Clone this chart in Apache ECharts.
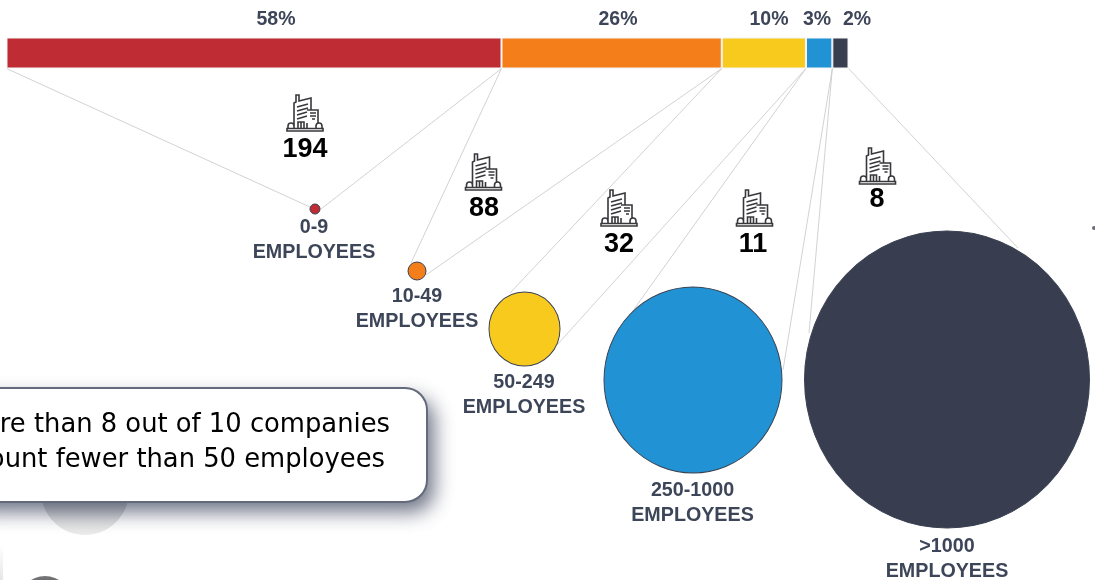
<!DOCTYPE html>
<html><head><meta charset="utf-8">
<style>html,body{margin:0;padding:0;background:#fff}#c{width:1095px;height:580px}</style>
<script src="https://cdn.jsdelivr.net/npm/echarts@6/dist/echarts.min.js"></script>
</head><body><div id="c"></div>
<script>
// Data
const categories = ['0-9', '10-49', '50-249', '250-1000', '>1000'];
const barShares = [58.2, 25.9, 9.9, 3.1, 1.9];
const shareLabels = ['58%', '26%', '10%', '3%', '2%'];
const companies = [194, 88, 32, 11, 8];
const unitLabel = 'EMPLOYEES';
const calloutLines = ['More than 8 out of 10 companies', 'count fewer than 50 employees'];

// Layout (pixels)
const barLeft = 6.5, barWidth = 842, barTop = 37.5, barHeight = 31;
const colors = ['#bf2c34', '#f47f1a', '#f9ca1e', '#2193d5', '#383e4f'];
const ink = '#3d4558';
const bubbleCentres = [[315, 209], [417, 271], [524.5, 329], [693, 380], [947, 379.5]];
const bubbleSizes = [[10, 10], [18, 18], [71, 74], [178, 186], [285, 297]];
const labelCentres = [[314, 240], [417, 309.5], [524, 395], [692.5, 503.5], [947, 559.5]];
const shareLabelX = [276, 618, 769, 817, 857];
const shareLabelY = 20;
const iconCentres = [[305, 113], [483.5, 172], [619, 208], [754.5, 208], [877.5, 166]];
const countCentres = [[305, 150], [484, 209], [619, 245], [753, 245], [877, 200]];
// connector ends: [bar-edge index, end x, end y]
const connectors = [
  [0, 310, 207], [1, 321, 209],
  [1, 411, 263], [2, 426, 275],
  [2, 510, 293], [3, 557, 345],
  [3, 632, 312], [4, 783, 370],
  [4, 809, 333], [5, 1018, 248]
];
const total = barShares.reduce((a, b) => a + b, 0);
const edgeX = [barLeft];
barShares.forEach((v, i) => edgeX.push(edgeX[i] + v / total * barWidth));

const buildingIcon = 'path://M0 36H36V33.5H0Z' +
  'M7 33V8L9 7V0H12V6L24 3V15' +
  'M10 12L21 9M10 16L21 13M10 20L20 17M10 24L20 21' +
  'M20 15H31V28M23 18H29M23 21H29M25 24H28M20 28V33' +
  'M11 33V27H17V33M14 27V33' +
  'M1 33V31Q1 28 4 28Q7 28 7 31V33M29 33V31Q29 28 32 28Q35 28 35 31V33';

const series = [];
barShares.forEach((v, i) => series.push({
  type: 'bar', stack: 's', xAxisIndex: 0, yAxisIndex: 0, barWidth: '100%', silent: true,
  data: [v], itemStyle: { color: colors[i], borderColor: '#f4f4f6', borderWidth: 1 }
}));
connectors.forEach(c => series.push({
  type: 'line', xAxisIndex: 1, yAxisIndex: 1, silent: true, symbol: 'none', z: 1,
  data: [[edgeX[c[0]], barTop + barHeight], [c[1], c[2]]],
  lineStyle: { color: '#c6c7cb', width: 0.8 }
}));
series.push({
  type: 'scatter', xAxisIndex: 1, yAxisIndex: 1, silent: true, z: 4,
  data: categories.map((c, i) => ({
    value: bubbleCentres[i], symbolSize: bubbleSizes[i],
    itemStyle: { color: colors[i], opacity: 1, borderColor: '#3a4152', borderWidth: 1 }
  }))
});
series.push({
  type: 'scatter', xAxisIndex: 1, yAxisIndex: 1, silent: true, z: 5,
  symbol: buildingIcon, symbolSize: 36,
  itemStyle: { color: '#fff', opacity: 1, borderColor: '#38383c', borderWidth: 1.6 },
  data: iconCentres
});
const textSeries = (points, texts, font) => ({
  type: 'scatter', xAxisIndex: 1, yAxisIndex: 1, silent: true, z: 6, symbolSize: 0,
  itemStyle: { opacity: 1 },
  data: points.map((p, i) => ({ value: p, name: String(texts[i]) })),
  label: Object.assign({ show: true, position: 'inside', formatter: p => p.name, fontFamily: '"Liberation Sans"', fontWeight: 'bold' }, font)
});
series.push(textSeries(shareLabelX.map(x => [x, shareLabelY]), shareLabels, { fontSize: 19.5, color: ink }));
series.push(textSeries(countCentres, companies, { fontSize: 27, color: '#000' }));
series.push(textSeries(labelCentres, categories.map(c => c + '\n' + unitLabel), { fontSize: 19.7, color: ink, lineHeight: 25 }));

const chart = echarts.init(document.getElementById('c'), null, { renderer: 'canvas' });
chart.setOption({
  animation: false,
  backgroundColor: '#fff',
  grid: [
    { left: barLeft, top: barTop, width: barWidth, height: barHeight },
    { left: 0, top: 0, width: 1095, height: 580 }
  ],
  xAxis: [
    { type: 'value', gridIndex: 0, min: 0, max: total, show: false },
    { type: 'value', gridIndex: 1, min: 0, max: 1095, show: false }
  ],
  yAxis: [
    { type: 'category', gridIndex: 0, data: ['share'], show: false },
    { type: 'value', gridIndex: 1, min: 0, max: 580, inverse: true, show: false }
  ],
  series,
  graphic: [
    { type: 'ellipse', z: 0, shape: { cx: 85, cy: 491, rx: 44, ry: 44 },
      style: { fill: new echarts.graphic.LinearGradient(0, 0, 0, 1, [{ offset: 0.4, color: '#b9babd' }, { offset: 1, color: '#ececec' }]) } },
    { type: 'circle', z: 0, shape: { cx: 45, cy: 602, r: 26 },
      style: { fill: new echarts.graphic.LinearGradient(0, 0, 0, 1, [{ offset: 0, color: '#77777a' }, { offset: 0.3, color: '#55555a' }]) } },
    { type: 'rect', z: 0, shape: { x: 0, y: 545, width: 3, height: 35 },
      style: { fill: new echarts.graphic.LinearGradient(0, 0, 0, 1, [{ offset: 0, color: '#ffffff' }, { offset: 1, color: '#e6e6e6' }]) } },
    { type: 'circle', z: 0, shape: { cx: 1094, cy: 228, r: 2 }, style: { fill: '#6a6f7e' } },
    { type: 'rect', z: 3, shape: { x: -40, y: 388, width: 467, height: 114, r: 22 },
      style: { fill: '#fff', shadowColor: 'rgba(60,68,92,0.75)', shadowBlur: 20, shadowOffsetX: 7, shadowOffsetY: 10 } },
    { type: 'rect', z: 3, shape: { x: -40, y: 388, width: 467, height: 114, r: 22 },
      style: { fill: 'none', stroke: '#626a7b', lineWidth: 2 } },
    { type: 'text', z: 4, x: 390, y: 425, style: { text: calloutLines[0], align: 'right', verticalAlign: 'middle', fontFamily: '"DejaVu Sans"', fontSize: 25.8, fill: '#000' } },
    { type: 'text', z: 4, x: 385, y: 460, style: { text: calloutLines[1], align: 'right', verticalAlign: 'middle', fontFamily: '"DejaVu Sans"', fontSize: 25.8, fill: '#000' } }
  ]
});
</script></body></html>
